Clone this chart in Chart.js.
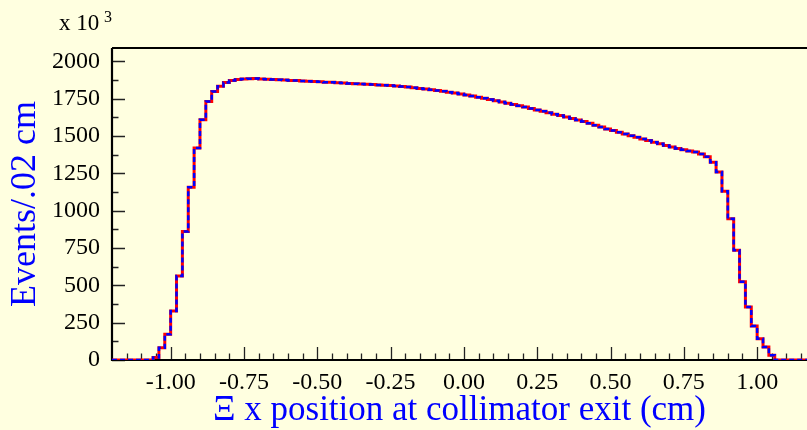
<!DOCTYPE html>
<html>
<head>
<meta charset="utf-8">
<script src="https://cdn.jsdelivr.net/npm/chart.js@4.4.1/dist/chart.umd.min.js"></script>
<style>
  html, body { margin: 0; padding: 0; background: #ffffe0; }
  #wrap { width: 807px; height: 430px; }
</style>
</head>
<body>
<div id="wrap"><canvas id="xiChart" width="807" height="430"></canvas></div>
<script>
  // histogram binning (cm)
  const binStart = -1.20;
  const binWidth = 0.02;

  // events per .02 cm bin, in units of 10^3
  const events = [
    0, 0, 0, 0, 0, 0, 0,
    16, 82, 172, 328, 562, 860, 1157, 1420, 1610, 1732, 1799, 1834, 1859,
    1873, 1879, 1882, 1884, 1885, 1883, 1881, 1879, 1877, 1875,
    1873, 1872, 1869, 1868, 1866, 1864, 1861, 1860, 1858, 1855,
    1853, 1851, 1849, 1847, 1845, 1842, 1840, 1838, 1835, 1832,
    1828, 1824, 1819, 1815, 1810, 1805, 1800, 1794, 1788, 1782,
    1775, 1768, 1760, 1753, 1745, 1737, 1728, 1720, 1712, 1703,
    1694, 1684, 1675, 1666, 1656, 1647, 1637, 1627, 1618, 1607,
    1597, 1586, 1572, 1560, 1548, 1537, 1525, 1514, 1503, 1492,
    1481, 1470, 1459, 1448, 1437, 1427, 1417, 1408, 1400, 1393,
    1380, 1362, 1325, 1260, 1131, 946, 736, 525, 355, 228, 143, 87, 31,
    0, 0, 0, 0, 0, 0
  ];

  const xMajorTicks = [-1.00, -0.75, -0.50, -0.25, 0.00, 0.25, 0.50, 0.75, 1.00];
  const yMajorTicks = [0, 250, 500, 750, 1000, 1250, 1500, 1750, 2000];

  // step points: one at each bin's low edge, plus the last high edge
  function stepPoints(counts) {
    var pts = [];
    for (var i = 0; i < counts.length; i++) {
      pts.push({ x: binStart + i * binWidth, y: counts[i] });
    }
    pts.push({ x: binStart + counts.length * binWidth, y: counts[counts.length - 1] });
    return pts;
  }

  // background, frame and inward tick marks
  const frame = {
    id: 'frame',
    beforeDraw(chart) {
      const ctx = chart.ctx;
      ctx.save();
      ctx.fillStyle = '#ffffe0';
      ctx.fillRect(0, 0, chart.width, chart.height);
      ctx.restore();
    },
    beforeDatasetsDraw(chart) {
      const ctx = chart.ctx;
      const a = chart.chartArea;
      const xs = chart.scales.x, ys = chart.scales.y;
      ctx.save();
      ctx.strokeStyle = '#222';
      ctx.lineWidth = 1.3;
      ctx.beginPath();
      // x ticks every 0.05, long on the labelled ones
      for (var k = -24; k <= 24; k++) {
        var v = k * 0.05;
        if (v < xs.min || v > xs.max) continue;
        var px = Math.round(xs.getPixelForValue(v)) + 0.5;
        var len = (k % 5 === 0) ? 13 : 6.5;
        ctx.moveTo(px, a.bottom);
        ctx.lineTo(px, a.bottom - len);
      }
      // y ticks every 125
      for (var j = 0; j <= 16; j++) {
        var py = Math.round(ys.getPixelForValue(j * 125)) + 0.5;
        var l2 = (j % 2 === 0) ? 13 : 6.5;
        ctx.moveTo(a.left, py);
        ctx.lineTo(a.left + l2, py);
      }
      ctx.stroke();

      ctx.strokeStyle = '#000';
      ctx.lineWidth = 2.2;
      ctx.beginPath();
      ctx.moveTo(a.left, a.top);
      ctx.lineTo(chart.width, a.top);
      ctx.moveTo(a.left, a.top);
      ctx.lineTo(a.left, a.bottom);
      ctx.lineTo(chart.width, a.bottom);
      ctx.stroke();

      // exponent label
      ctx.fillStyle = '#000';
      ctx.textBaseline = 'alphabetic';
      ctx.font = '23px "Liberation Serif", serif';
      ctx.fillText('x 10', 59, 30);
      ctx.font = '16px "Liberation Serif", serif';
      ctx.fillText('3', 104, 22);
      ctx.restore();
    }
  };

  const ctx = document.getElementById('xiChart').getContext('2d');
  const xiChart = new Chart(ctx, {
    type: 'line',
    data: {
      datasets: [
        {
          label: 'dashed',
          data: stepPoints(events),
          stepped: true,
          borderColor: '#0000ff',
          borderWidth: 2.5,
          borderDash: [5, 3],
          pointRadius: 0,
          fill: false
        },
        {
          label: 'solid',
          data: stepPoints(events),
          stepped: true,
          borderColor: '#ff0000',
          borderWidth: 3,
          pointRadius: 0,
          fill: false
        }
      ]
    },
    plugins: [frame],
    options: {
      responsive: false,
      animation: false,
      layout: { padding: { top: 48, right: 0, bottom: 0, left: 0 } },
      plugins: {
        legend: { display: false },
        tooltip: { enabled: false }
      },
      scales: {
        x: {
          type: 'linear',
          min: -1.20,
          max: 1.17,
          grid: { display: false, drawTicks: false },
          border: { display: false },
          afterBuildTicks: function (axis) {
            axis.ticks = xMajorTicks.map(function (v) { return { value: v }; });
          },
          afterFit: function (scale) { scale.height = 70; },
          ticks: {
            padding: 8,
            maxRotation: 0,
            color: '#000',
            font: { family: '"Liberation Serif", serif', size: 24 },
            callback: function (value) { return value.toFixed(2); }
          },
          title: {
            display: true,
            text: 'Ξ x position at collimator exit (cm)',
            color: '#0000ff',
            font: { family: '"Liberation Serif", serif', size: 35 },
            padding: { top: 0, bottom: -2 }
          }
        },
        y: {
          min: 0,
          max: 2090,
          grid: { display: false, drawTicks: false },
          border: { display: false },
          afterBuildTicks: function (axis) {
            axis.ticks = yMajorTicks.map(function (v) { return { value: v }; });
          },
          afterFit: function (scale) { scale.width = 112; },
          ticks: {
            padding: 12,
            color: '#000',
            font: { family: '"Liberation Serif", serif', size: 24 },
            callback: function (value) { return String(value); }
          },
          title: {
            display: true,
            text: 'Events/.02 cm',
            color: '#0000ff',
            font: { family: '"Liberation Serif", serif', size: 36 },
            padding: { top: 4, bottom: 0 }
          }
        }
      }
    }
  });
</script>
</body>
</html>
